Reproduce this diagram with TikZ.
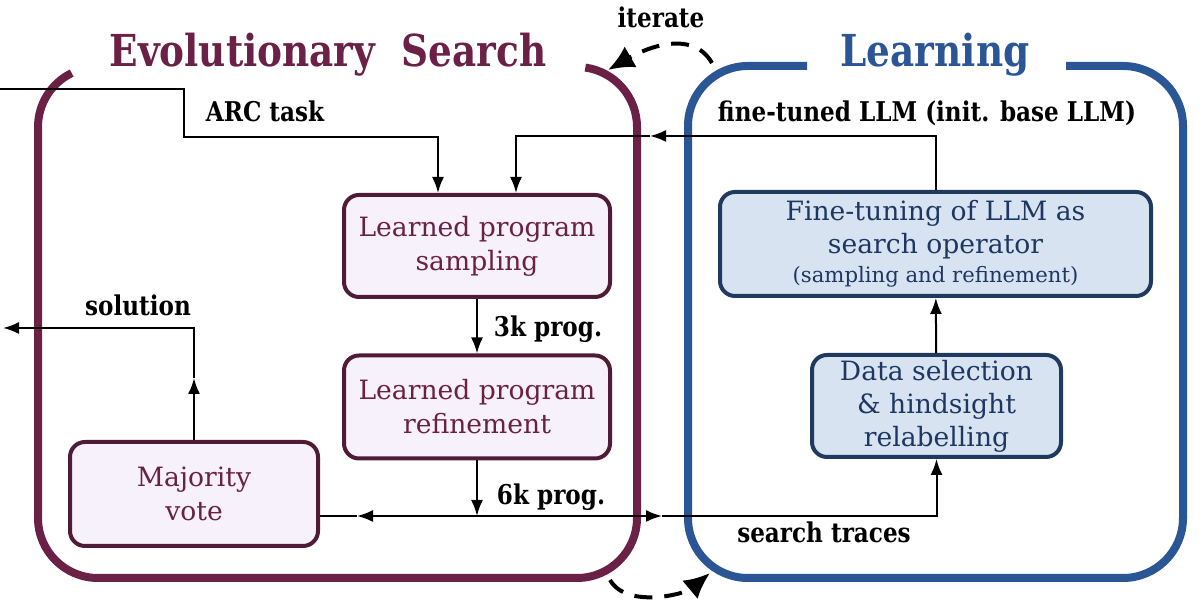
\documentclass[tikz,border=0pt]{standalone}
\usepackage{fontspec}
\setmainfont{DejaVu Serif}
\newfontfamily\slabfont[FakeStretch=0.85]{DejaVu Serif}
\usetikzlibrary{arrows.meta}

\definecolor{evomaroon}{RGB}{107,32,70}
\definecolor{evoedge}{RGB}{80,27,54}
\definecolor{evofill}{RGB}{246,241,250}
\definecolor{learnblue}{RGB}{42,86,150}
\definecolor{learnedge}{RGB}{31,58,94}
\definecolor{learnfill}{RGB}{215,227,241}
\definecolor{learntext}{RGB}{30,55,98}

\begin{document}
\begin{tikzpicture}[x=0.5pt,y=0.5pt,line width=1pt,>={Latex[length=8pt,width=6pt]},
  progbox/.style={draw=evoedge,fill=evofill,text=evomaroon,line width=2pt,rounded corners=7.5pt,
    align=center,inner sep=0pt,font=\fontsize{13.3}{17}\selectfont},
  learnbox/.style={draw=learnedge,fill=learnfill,text=learntext,line width=2pt,rounded corners=7.5pt,
    align=center,inner sep=0pt,font=\fontsize{13.3}{16.5}\selectfont},
  lbl/.style={font=\slabfont\fontsize{13.6}{16}\selectfont\bfseries,anchor=base,inner sep=0pt},
  title/.style={font=\slabfont\fontsize{22}{26}\selectfont\bfseries,anchor=base,inner sep=0pt},
  frame/.style={line width=4pt},
  iter/.style={line width=2pt,dash pattern=on 9pt off 6pt,-{Latex[length=13pt,width=12pt]}}]
  \useasboundingbox (0,0) rectangle (1200,613);
  % marcos
  \draw[evomaroon,frame] (98,486) ++(116:60) arc[start angle=116,end angle=180,radius=60]
    -- (38,95) arc[start angle=180,end angle=270,radius=60]
    -- (577,35) arc[start angle=270,end angle=360,radius=60]
    -- (637,486) arc[start angle=0,end angle=82,radius=60];
  \draw[learnblue,frame] (807,547) -- (748,547) arc[start angle=90,end angle=180,radius=60]
    -- (688,95) arc[start angle=180,end angle=270,radius=60]
    -- (1123,35) arc[start angle=270,end angle=360,radius=60]
    -- (1183,487) arc[start angle=0,end angle=90,radius=60] -- (1066,547);
  \node[title,text=evomaroon] (evotitle) at (328,546) {Evolutionary\hspace{0.6em}Search};
  \node[title,text=learnblue] (learntitle) at (935,546) {Learning};
  % cajas
  \node[progbox,minimum width=133pt,minimum height=51pt] (samp) at (477,367) {Learned program\\sampling};
  \node[progbox,minimum width=133pt,minimum height=51.5pt] (refine) at (477,206) {Learned program\\refinement};
  \node[progbox,minimum width=124pt,minimum height=52pt] (vote) at (194,119) {Majority\\vote};
  \node[learnbox,minimum width=215.5pt,minimum height=52pt] (tune) at (935.5,369)
    {Fine-tuning of LLM as\\search operator\\[-2pt]{\fontsize{10.6}{13}\selectfont (sampling and refinement)}};
  \node[learnbox,minimum width=124.5pt,minimum height=51pt] (data) at (936.5,207) {Data selection\\\& hindsight\\relabelling};
  % etiquetas
  \node[lbl] (arclbl) at (265,491) {ARC task};
  \node[lbl] (ftlbl) at (927,491) {fine-tuned LLM (init. base LLM)};
  \node[lbl] (k3lbl) at (548,276) {3k prog.};
  \node[lbl] (k6lbl) at (551,108) {6k prog.};
  \node[lbl] (tracelbl) at (824,70) {search traces};
  \node[lbl] (sollbl) at (138,297) {solution};
  \node[lbl] (iterlbl) at (661,585) {iterate};
  % flechas
  \coordinate (arcin) at (0,524);
  \draw[->] (arcin) -| (184,476) -| ([xshift=-19.5pt]samp.north);
  \coordinate (ftmid) at (650,477);
  \draw[->] (tune.north) |- (ftmid);
  \draw[->] (ftmid) -| ([xshift=19.5pt]samp.north);
  \draw[->] (samp) -- (refine);
  \coordinate (busjoin) at (477,97);
  \coordinate (busleft) at (357,97);
  \coordinate (busright) at (662,97);
  \draw[->] (refine) -- (busjoin);
  \draw[->] (busjoin) -- (busleft);
  \draw (busleft) -- (vote.east |- busjoin);
  \draw[->] (busjoin) -- (busright);
  \draw[->] (busright) -| (data.south);
  \draw[->] (data) -- (tune);
  \coordinate (solturn) at (194,235);
  \coordinate (solout) at (3,285);
  \draw[->] (vote) -- (solturn);
  \draw[->] (solturn) |- (solout);
  % iterar
  \coordinate (itstart) at (712,550);
  \coordinate (itend) at (608,543);
  \draw[iter] (itstart) to[out=120,in=30] (itend);
  \coordinate (btstart) at (610,33);
  \coordinate (btend) at (710,40);
  \draw[iter] (btstart) to[out=-60,in=-140,looseness=0.85] (btend);
\end{tikzpicture}
\end{document}
